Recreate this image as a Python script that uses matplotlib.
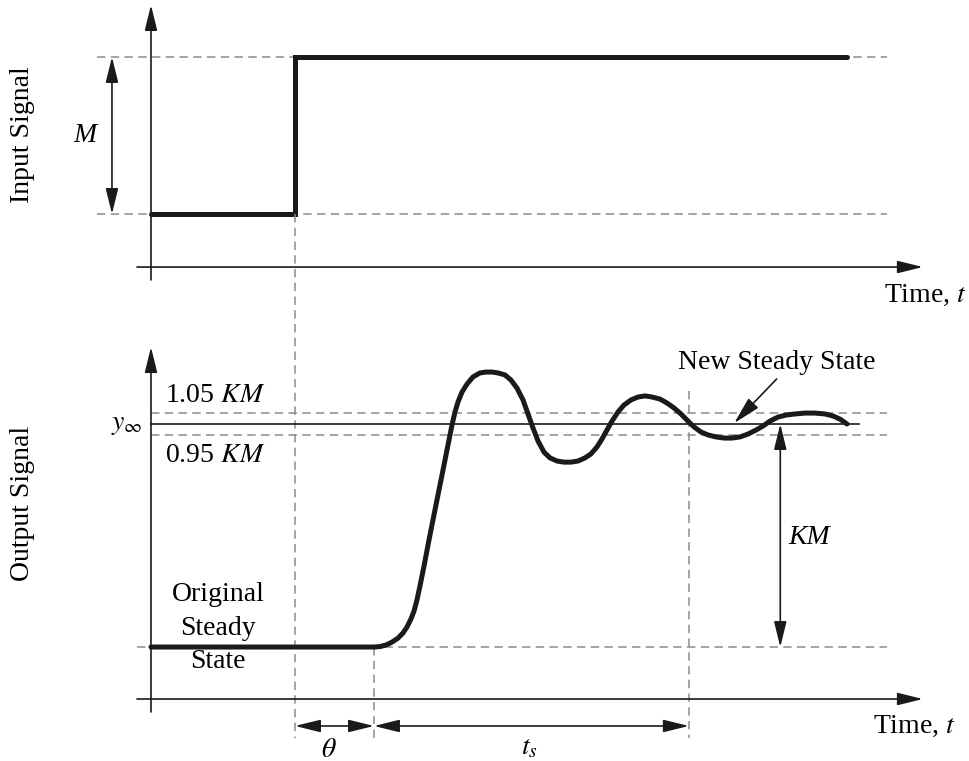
import matplotlib.pyplot as plt

plt.rcParams['font.family'] = ['Liberation Serif', 'DejaVu Serif']
plt.rcParams['mathtext.fontset'] = 'stix'

# Input step: low level 0 until the step time, then M (=1)
t_step = 2.0
t_end = 9.667
input_low, input_high = 0.0, 1.0

# Output response (units of KM), after dead time theta
t_delay = 3.097
t_settle = 7.47
out_t = [0.0, 3.097, 3.181, 3.264, 3.347, 3.431, 3.5, 3.556, 3.611, 3.653,
         3.694, 3.736, 3.792, 3.861, 3.958, 4.056, 4.125, 4.181, 4.222, 4.264,
         4.319, 4.389, 4.472, 4.569, 4.653, 4.736, 4.819, 4.917, 5.0, 5.083,
         5.167, 5.236, 5.306, 5.375, 5.458, 5.542, 5.639, 5.736, 5.833, 5.931,
         6.028, 6.111, 6.194, 6.264, 6.333, 6.403, 6.486, 6.569, 6.667, 6.764,
         6.861, 6.958, 7.069, 7.167, 7.264, 7.361, 7.458, 7.542, 7.639, 7.736,
         7.847, 7.958, 8.069, 8.181, 8.292, 8.403, 8.5, 8.597, 8.708, 8.819,
         8.944, 9.083, 9.222, 9.361, 9.472, 9.569, 9.667]
out_y = [0.0, 0.0, 0.002, 0.009, 0.022, 0.040, 0.063, 0.090, 0.126, 0.161,
         0.211, 0.274, 0.363, 0.480, 0.637, 0.794, 0.906, 0.996, 1.054, 1.099,
         1.143, 1.179, 1.211, 1.229, 1.233, 1.233, 1.229, 1.220, 1.197, 1.161,
         1.108, 1.045, 0.982, 0.924, 0.874, 0.848, 0.834, 0.829, 0.829, 0.834,
         0.848, 0.866, 0.897, 0.933, 0.973, 1.013, 1.054, 1.085, 1.108, 1.121,
         1.126, 1.121, 1.112, 1.094, 1.072, 1.045, 1.013, 0.987, 0.964, 0.951,
         0.942, 0.937, 0.937, 0.942, 0.955, 0.973, 0.991, 1.013, 1.031, 1.040,
         1.045, 1.049, 1.049, 1.045, 1.036, 1.022, 1.0]
band_hi, band_lo = 1.05, 0.95

BLACK = '#1a1a1a'
GREY = '#8c8c8c'
DASH = dict(color=GREY, lw=1.1, ls=(0, (5.5, 3.5)))


def arrow(ax, tail, tip, style='-|>', lw=1.2, scale=12):
    ax.annotate('', xy=tip, xytext=tail, annotation_clip=False,
                arrowprops=dict(arrowstyle=f'{style},head_length=1.3,head_width=0.32',
                                mutation_scale=scale, lw=lw, color=BLACK,
                                shrinkA=0, shrinkB=0))


fig = plt.figure(figsize=(9.69, 7.61), dpi=100)
ax_in = fig.add_axes([0, 1 - 300 / 761, 1, 300 / 761])
ax_out = fig.add_axes([0, 0, 1, 461 / 761])
for ax in (ax_in, ax_out):
    ax.set_xlim(-2.097, 11.361)
    ax.axis('off')
ax_in.set_ylim(-0.548, 1.363)
ax_out.set_ylim(-0.511, 1.556)

# ---- input signal panel ----
ax_in.plot([-0.75, 10.22], [input_high, input_high], **DASH)
ax_in.plot([-0.75, 10.22], [input_low, input_low], **DASH)
arrow(ax_in, (0, -0.42), (0, 1.331))
arrow(ax_in, (-0.194, -0.338), (10.72, -0.338))
ax_in.plot([0, t_step, t_step, t_end], [input_low, input_low, input_high, input_high],
           color=BLACK, lw=3.6, solid_joinstyle='miter', solid_capstyle='round')
arrow(ax_in, (-0.542, input_low), (-0.542, input_high), style='<|-|>')
ax_in.text(-0.917, 0.503, 'M', style='italic', fontsize=20, ha='center', va='center')
ax_in.text(-1.79, 0.503, 'Input Signal', rotation=90, fontsize=20, ha='center', va='center')
ax_in.text(10.18, -0.516, 'Time, $t$', fontsize=20, ha='left', va='center')

# ---- output signal panel ----
ax_out.plot([0, 10.22], [band_hi, band_hi], **DASH)
ax_out.plot([0, 10.22], [band_lo, band_lo], **DASH)
ax_out.plot([-0.194, 10.22], [0, 0], **DASH)
ax_out.plot([t_step, t_step], [1.942, -0.408], clip_on=False, **DASH)
ax_out.plot([t_delay, t_delay], [0, -0.408], **DASH)
ax_out.plot([t_settle, t_settle], [1.15, -0.408], **DASH)
ax_out.plot([0, 9.83], [1.0, 1.0], color=BLACK, lw=1.2)
arrow(ax_out, (0, -0.291), (0, 1.345))
arrow(ax_out, (-0.194, -0.233), (10.72, -0.233))
ax_out.plot(out_t, out_y, color=BLACK, lw=3.6, solid_capstyle='round',
            solid_joinstyle='round')

arrow(ax_out, (8.74, 1.0), (8.74, 0.0), style='<|-|>')
arrow(ax_out, (t_step, -0.354), (t_delay, -0.354), style='<|-|>')
arrow(ax_out, (t_delay, -0.354), (t_settle, -0.354), style='<|-|>')
arrow(ax_out, (8.69, 1.202), (8.10, 1.004), scale=13)

ax_out.text(0.19, 1.13, r'1.05 $KM$', fontsize=20, ha='left', va='center')
ax_out.text(0.19, 0.861, r'0.95 $KM$', fontsize=20, ha='left', va='center')
ax_out.text(-0.11, 1.0, r'$y_\infty$', fontsize=20, ha='right', va='center')
ax_out.text(8.85, 0.489, 'KM', style='italic', fontsize=20, ha='left', va='center')
ax_out.text(8.69, 1.274, 'New Steady State', fontsize=20, ha='center', va='center')
ax_out.text(0.93, 0.085, 'Original\nSteady\nState', fontsize=20, ha='center',
            va='center', linespacing=1.45)
ax_out.text(-1.79, 0.646, 'Output Signal', rotation=90, fontsize=20, ha='center', va='center')
ax_out.text(10.03, -0.354, 'Time, $t$', fontsize=20, ha='left', va='center')
ax_out.text(2.47, -0.462, r'$\theta$', fontsize=20, ha='center', va='center')
ax_out.text(5.26, -0.453, r'$t_s$', fontsize=20, ha='center', va='center')

fig.savefig('out.png', dpi=100)
